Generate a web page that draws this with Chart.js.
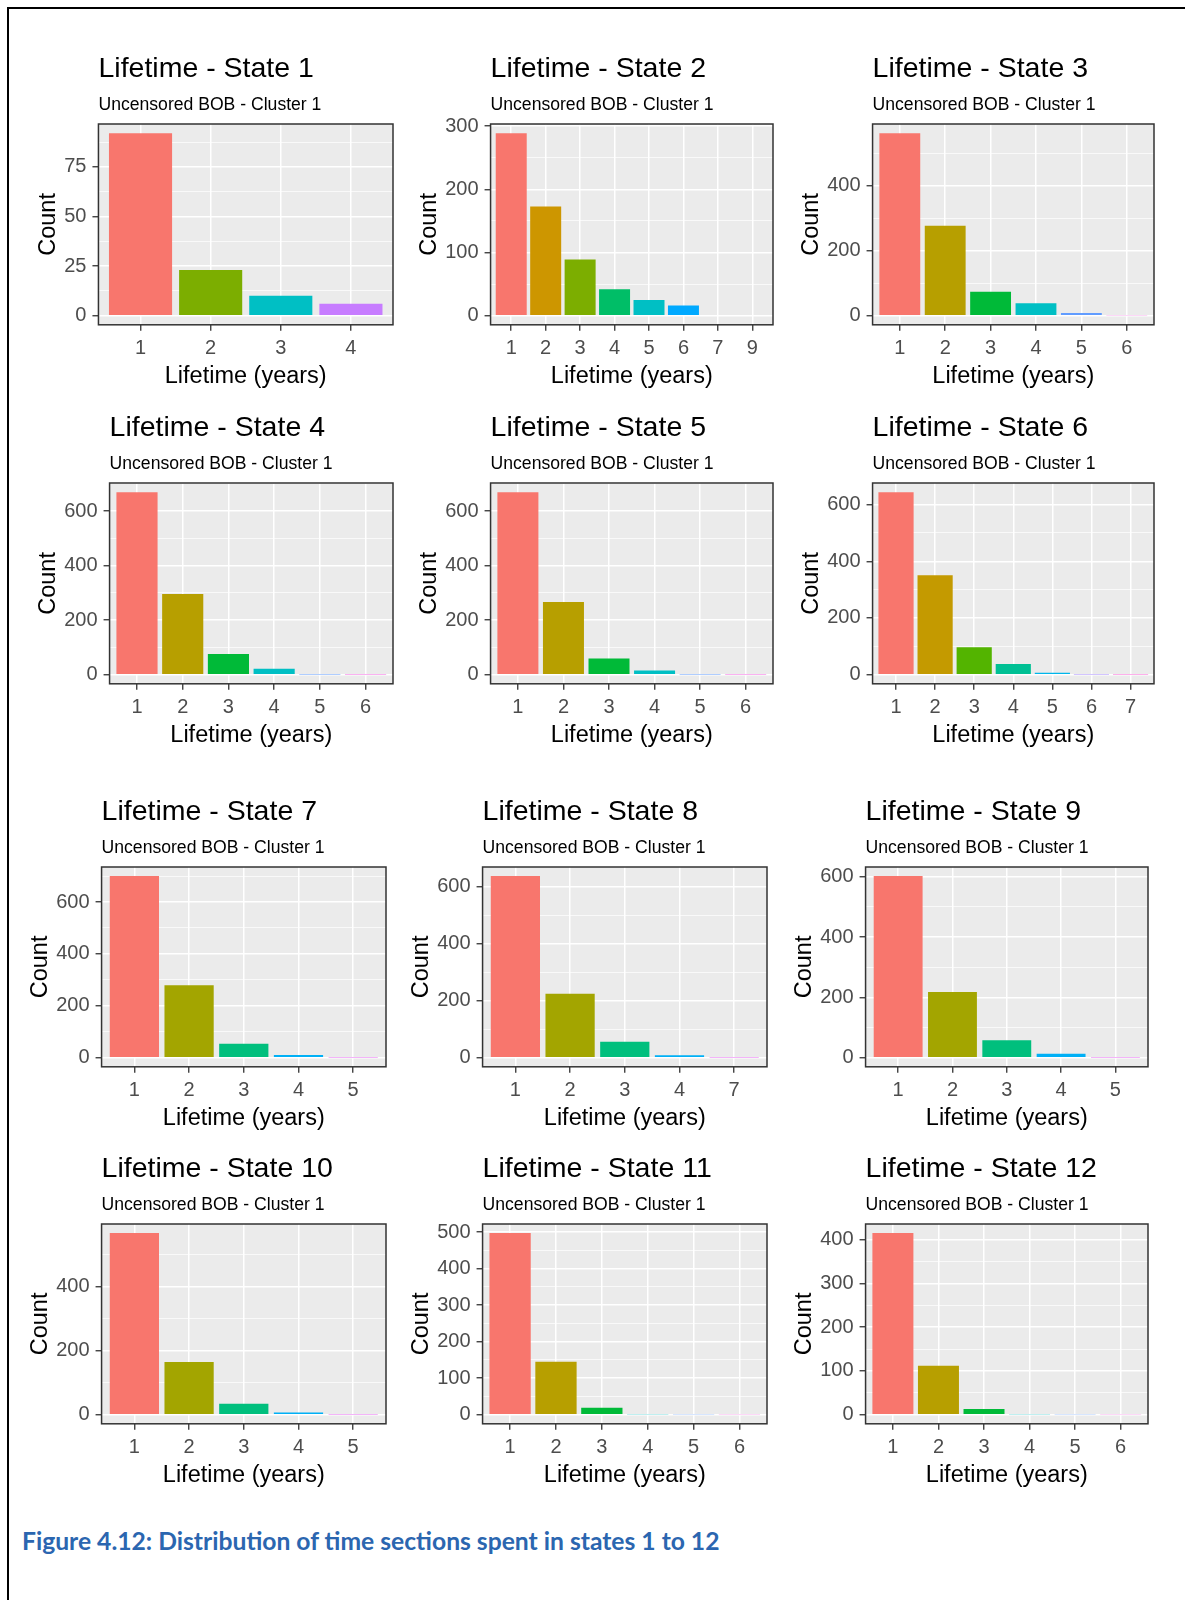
<!DOCTYPE html>
<html>
<head>
<meta charset="utf-8">
<title>Lifetime distributions by state</title>
<script src="https://cdn.jsdelivr.net/npm/chart.js@4.4.1/dist/chart.umd.min.js"></script>
<style>
  html, body { margin: 0; padding: 0; background: #fff; }
  body { width: 1185px; height: 1600px; position: relative; overflow: hidden; font-family: "Liberation Sans", Arial, sans-serif; }
  #frame { position: absolute; left: 7px; top: 7px; width: 1300px; height: 1700px; border-left: 2px solid #000; border-top: 2px solid #000; }
  .panel { position: absolute; }
  .panel canvas { display: block; }
  #caption { position: absolute; left: 22px; top: 1529px; line-height: 1; white-space: nowrap; font-family: Lato, "Open Sans", sans-serif; font-weight: bold; font-size: 21px; color: #2B66B0; }
</style>
</head>
<body>
<div id="frame"></div>
<div id="caption">Figure 4.12: Distribution of time sections spent in states 1 to 12</div>
<script>
// ---- data: lifetime categories (years), counts and y-axis breaks per state ----
const state1Lifetimes = ['1', '2', '3', '4'];
const state1Counts = [92, 23, 10, 6];
const state1YTicks = [0, 25, 50, 75];

const state2Lifetimes = ['1', '2', '3', '4', '5', '6', '7', '9'];
const state2Counts = [289, 173, 89, 42, 25, 16, 1, 1];
const state2YTicks = [0, 100, 200, 300];

const state3Lifetimes = ['1', '2', '3', '4', '5', '6'];
const state3Counts = [562, 277, 74, 38, 8, 1];
const state3YTicks = [0, 200, 400];

const state4Lifetimes = ['1', '2', '3', '4', '5', '6'];
const state4Counts = [670, 296, 76, 22, 1, 1];
const state4YTicks = [0, 200, 400, 600];

const state5Lifetimes = ['1', '2', '3', '4', '5', '6'];
const state5Counts = [670, 267, 59, 15, 1, 1];
const state5YTicks = [0, 200, 400, 600];

const state6Lifetimes = ['1', '2', '3', '4', '5', '6', '7'];
const state6Counts = [644, 351, 97, 38, 7, 1, 1];
const state6YTicks = [0, 200, 400, 600];

const state7Lifetimes = ['1', '2', '3', '4', '5'];
const state7Counts = [700, 279, 54, 10, 1];
const state7YTicks = [0, 200, 400, 600];

const state8Lifetimes = ['1', '2', '3', '4', '7'];
const state8Counts = [638, 225, 56, 9, 1];
const state8YTicks = [0, 200, 400, 600];

const state9Lifetimes = ['1', '2', '3', '4', '5'];
const state9Counts = [602, 218, 58, 13, 1];
const state9YTicks = [0, 200, 400, 600];

const state10Lifetimes = ['1', '2', '3', '4', '5'];
const state10Counts = [568, 165, 34, 7, 1];
const state10YTicks = [0, 200, 400];

const state11Lifetimes = ['1', '2', '3', '4', '5', '6'];
const state11Counts = [497, 145, 19, 1, 1, 1];
const state11YTicks = [0, 100, 200, 300, 400, 500];

const state12Lifetimes = ['1', '2', '3', '4', '5', '6'];
const state12Counts = [415, 112, 13, 1, 1, 1];
const state12YTicks = [0, 100, 200, 300, 400];

const subtitleText = 'Uncensored BOB - Cluster 1';
const xAxisTitle = 'Lifetime (years)';
const yAxisTitle = 'Count';

// ---- layout: plot-panel boxes on the page (left, top, right, bottom) ----
const panelBoxes = [
  [98, 124, 393, 325], [491, 124, 773, 325], [873, 124, 1154, 325],
  [110, 483, 393, 684], [491, 483, 773, 684], [873, 483, 1154, 684],
  [102, 867, 386, 1067], [483, 867, 767, 1067], [866, 867, 1148, 1067],
  [102, 1224, 386, 1424], [483, 1224, 767, 1424], [866, 1224, 1148, 1424]
];

// ggplot2 default hue palettes by number of categories
const huePalettes = {
  4: ['#F8766D', '#7CAE00', '#00BFC4', '#C77CFF'],
  5: ['#F8766D', '#A3A500', '#00BF7D', '#00B0F6', '#E76BF3'],
  6: ['#F8766D', '#B79F00', '#00BA38', '#00BFC4', '#619CFF', '#F564E3'],
  7: ['#F8766D', '#C49A00', '#53B400', '#00C094', '#00B6EB', '#A58AFF', '#FB61D7'],
  8: ['#F8766D', '#CD9600', '#7CAE00', '#00BE67', '#00BFC4', '#00A9FF', '#C77CFF', '#FF61CC']
};

const states = [
  [state1Lifetimes, state1Counts, state1YTicks],
  [state2Lifetimes, state2Counts, state2YTicks],
  [state3Lifetimes, state3Counts, state3YTicks],
  [state4Lifetimes, state4Counts, state4YTicks],
  [state5Lifetimes, state5Counts, state5YTicks],
  [state6Lifetimes, state6Counts, state6YTicks],
  [state7Lifetimes, state7Counts, state7YTicks],
  [state8Lifetimes, state8Counts, state8YTicks],
  [state9Lifetimes, state9Counts, state9YTicks],
  [state10Lifetimes, state10Counts, state10YTicks],
  [state11Lifetimes, state11Counts, state11YTicks],
  [state12Lifetimes, state12Counts, state12YTicks]
];

const FONT = '"Liberation Sans", Arial, sans-serif';

// grey panel background and dark frame around the plotting area
const panelFrame = {
  id: 'panelFrame',
  beforeDraw(chart) {
    const { ctx, chartArea: a } = chart;
    ctx.save();
    ctx.fillStyle = '#EBEBEB';
    ctx.fillRect(a.left, a.top, a.right - a.left, a.bottom - a.top);
    ctx.restore();
  },
  afterDraw(chart) {
    const { ctx, chartArea: a } = chart;
    ctx.save();
    ctx.strokeStyle = '#333333';
    ctx.lineWidth = 1.5;
    ctx.strokeRect(a.left, a.top, a.right - a.left, a.bottom - a.top);
    ctx.restore();
  }
};

// left-aligned title and subtitle above the plotting area
const panelHeading = {
  id: 'panelHeading',
  afterDraw(chart, args, opts) {
    const { ctx, chartArea: a } = chart;
    ctx.save();
    ctx.textAlign = 'left';
    ctx.textBaseline = 'alphabetic';
    ctx.fillStyle = '#000';
    ctx.font = '28.5px ' + FONT;
    ctx.fillText(opts.title, a.left, a.top - 47.5);
    ctx.fillStyle = '#000';
    ctx.font = '17.6px ' + FONT;
    ctx.fillText(opts.subtitle, a.left, a.top - 14);
    ctx.restore();
  }
};

function minorBreaks(majors, lo, hi) {
  const step = majors[1] - majors[0];
  const out = [];
  for (let v = majors[0] - step / 2; v <= hi; v += step) {
    if (v >= lo) out.push(v);
  }
  return out;
}

function makeChart(wrap, idx, w, h) {
  const [lifetimes, counts, yTicks] = states[idx];
  const n = lifetimes.length;
  const top = Math.max(...counts);
  const yMin = -0.05 * top, yMax = 1.05 * top;
  const majorSet = new Set(yTicks);
  const yAll = yTicks.concat(minorBreaks(yTicks, yMin, yMax)).sort((a, b) => a - b);

  const canvas = document.createElement('canvas');
  canvas.width = w;
  canvas.height = h;
  canvas.style.width = w + 'px';
  canvas.style.height = h + 'px';
  wrap.appendChild(canvas);

  return new Chart(canvas, {
    type: 'bar',
    data: {
      datasets: [{
        data: counts.map((c, i) => ({ x: i + 1, y: c })),
        backgroundColor: huePalettes[n].slice(0, n),
        borderWidth: 0,
        barPercentage: 0.9,
        categoryPercentage: 1.0
      }]
    },
    options: {
      responsive: false,
      maintainAspectRatio: false,
      animation: false,
      devicePixelRatio: 1,
      events: [],
      layout: { padding: { top: 72, right: 8, bottom: 4, left: 4 } },
      plugins: {
        legend: { display: false },
        tooltip: { enabled: false },
        panelHeading: { title: 'Lifetime - State ' + (idx + 1), subtitle: subtitleText }
      },
      scales: {
        x: {
          type: 'linear',
          offset: false,
          min: 0.4,
          max: n + 0.6,
          afterBuildTicks: s => { s.ticks = lifetimes.map((_, i) => ({ value: i + 1 })); },
          border: { display: false },
          grid: { offset: false, color: '#FFFFFF', lineWidth: 1.5, tickColor: '#333333', tickLength: 6, tickWidth: 1.3 },
          ticks: {
            autoSkip: false,
            maxRotation: 0,
            padding: 7,
            color: '#4D4D4D',
            font: { family: FONT, size: 20, lineHeight: 1.1 },
            callback: v => lifetimes[Math.round(v) - 1]
          },
          title: {
            display: true,
            text: xAxisTitle,
            color: '#000',
            font: { family: FONT, size: 23.5 },
            padding: { top: -4, bottom: 0 }
          }
        },
        y: {
          type: 'linear',
          min: yMin,
          max: yMax,
          afterBuildTicks: s => { s.ticks = yAll.map(v => ({ value: v })); },
          border: { display: false },
          grid: {
            color: '#FFFFFF',
            lineWidth: c => (c.tick && majorSet.has(c.tick.value)) ? 1.5 : 0.7,
            tickColor: c => (c.tick && majorSet.has(c.tick.value)) ? '#333333' : 'rgba(0,0,0,0)',
            tickLength: 6,
            tickWidth: 1.3
          },
          ticks: {
            autoSkip: false,
            padding: 6,
            color: '#4D4D4D',
            font: { family: FONT, size: 20 },
            callback: v => majorSet.has(v) ? String(v) : ''
          },
          title: {
            display: true,
            text: yAxisTitle,
            color: '#000',
            font: { family: FONT, size: 23.5 },
            padding: { top: 0, bottom: -4 }
          }
        }
      }
    },
    plugins: [panelFrame, panelHeading]
  });
}

function buildPanel(idx) {
  const [l, t, r, b] = panelBoxes[idx];
  const wrap = document.createElement('div');
  wrap.className = 'panel';
  document.body.appendChild(wrap);
  let w = (r - l) + 120, h = (b - t) + 160;
  let chart = makeChart(wrap, idx, w, h);
  const a = chart.chartArea;
  w = Math.round(w + (r - l) - (a.right - a.left));
  h = Math.round(h + (b - t) - (a.bottom - a.top));
  chart.destroy();
  wrap.innerHTML = '';
  chart = makeChart(wrap, idx, w, h);
  wrap.style.left = Math.round(l - chart.chartArea.left) + 'px';
  wrap.style.top = Math.round(t - chart.chartArea.top) + 'px';
}

for (let i = 0; i < states.length; i++) buildPanel(i);

// caption sized to its line length in the document
(function () {
  const cap = document.getElementById('caption');
  const ctx = document.createElement('canvas').getContext('2d');
  ctx.font = 'bold 20px Lato, "Open Sans", sans-serif';
  const w20 = ctx.measureText(cap.textContent).width;
  cap.style.fontSize = (20 * 698 / w20).toFixed(2) + 'px';
})();
</script>
</body>
</html>
